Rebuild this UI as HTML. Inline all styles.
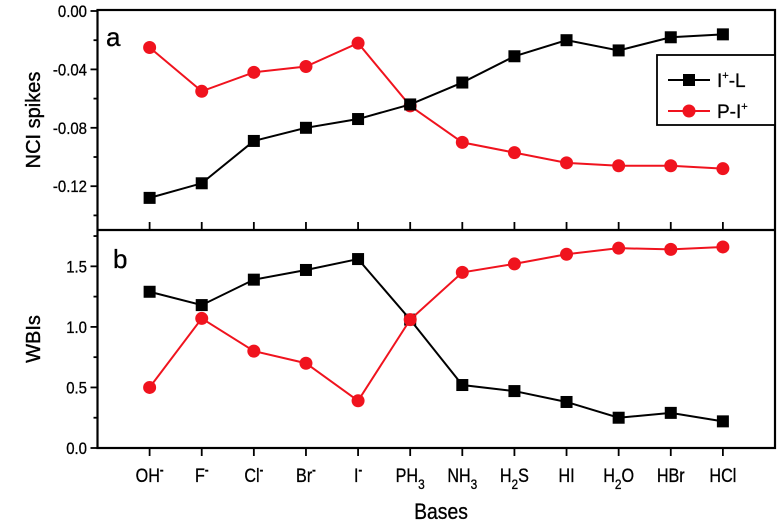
<!DOCTYPE html>
<html><head><meta charset="utf-8"><style>
html,body{margin:0;padding:0;background:#fff;}
svg{display:block;font-family:"Liberation Sans",sans-serif;}
</style></head><body>
<svg id="chart" width="779" height="532"></svg>
<script>
const categories=["OH","F","Cl","Br","I","PH3","NH3","H2S","HI","H2O","HBr","HCl"];
const labelHtml=[["OH","-",""],["F","-",""],["Cl","-",""],["Br","-",""],["I","-",""],["PH","","3"],["NH","","3"],["H","","2S"],["HI","",""],["H","","2O"],["HBr","",""],["HCl","",""]];
const nciIL=[-0.128,-0.118,-0.089,-0.080,-0.074,-0.064,-0.049,-0.031,-0.020,-0.027,-0.018,-0.016];
const nciPI=[-0.025,-0.055,-0.042,-0.038,-0.022,-0.065,-0.090,-0.097,-0.104,-0.106,-0.106,-0.108];
const wbiIL=[1.29,1.18,1.39,1.47,1.56,1.06,0.52,0.47,0.38,0.25,0.29,0.22];
const wbiPI=[0.50,1.07,0.80,0.70,0.39,1.06,1.45,1.52,1.60,1.65,1.64,1.66];
const nciTicks=[0,-0.04,-0.08,-0.12];
const nciTickLabels=["0.00","-0.04","-0.08","-0.12"];
const wbiTicks=[0,0.5,1.0,1.5];
const wbiTickLabels=["0.0","0.5","1.0","1.5"];

const svg=document.getElementById('chart');
const NS="http://www.w3.org/2000/svg";
function mk(tag,attrs,parent){const e=document.createElementNS(NS,tag);for(const k in attrs)e.setAttribute(k,attrs[k]);(parent||svg).appendChild(e);return e;}
const L=97.5,R=775;
const x=i=>L+(i+1)*(R-L)/13;
const yTop=v=>11+(v-0)/(-0.15)*(230-11);
const yBot=v=>448-v/1.8*(448-230);

const fr=mk('rect',{x:L,y:10,width:R-L,height:438,fill:'none',stroke:'#000','stroke-width':2.2});


const sep=mk('line',{x1:L,x2:R,y1:230,y2:230,stroke:'#000','stroke-width':2.2});



categories.forEach((c,i)=>{
  const t1=mk('line',{x1:x(i),x2:x(i),y1:230,y2:222,stroke:'#000','stroke-width':1.8});
  
  
  const t2=mk('line',{x1:x(i),x2:x(i),y1:448,y2:456,stroke:'#000','stroke-width':1.8});
  
  
  const lh=labelHtml[i];
  const g=mk('g',{transform:'translate('+x(i)+',482) scale(0.85,1)'});
  const tx=mk('text',{x:0,y:0,'text-anchor':'middle','font-size':19,stroke:'#000','stroke-width':0.3},g);
  
  
  const a=mk('tspan',{},tx);a.textContent=lh[0];
  if(lh[1]){const s=mk('tspan',{dy:-8,'font-size':13,'font-weight':'bold'},tx);s.textContent=lh[1];}
  if(lh[2]){const s=mk('tspan',{dy:7,'font-size':14},tx);s.textContent=lh[2][0];
    if(lh[2].length>1){const r=mk('tspan',{dy:-7},tx);r.textContent=lh[2].slice(1);}}
});
for(let v=0;v>=-0.141;v-=0.02){const y=yTop(v);const major=Math.abs(v/0.04-Math.round(v/0.04))<1e-6;
  const t=mk('line',{x1:L,x2:L-(major?7:4),y1:y,y2:y,stroke:'#000','stroke-width':1.8});
  
  }
nciTicks.forEach((v,i)=>{const t=mk('text',{x:0,y:0,'text-anchor':'end','font-size':17,stroke:'#000','stroke-width':0.3,transform:'translate(87,'+(yTop(v)+6)+') scale(0.88,1)'});t.textContent=nciTickLabels[i];
  
  });
for(let v=0;v<=1.76;v+=0.25){const y=yBot(v);const major=Math.abs(v*2-Math.round(v*2))<1e-6;
  const t=mk('line',{x1:L,x2:L-(major?7:4),y1:y,y2:y,stroke:'#000','stroke-width':1.8});
  
  }
wbiTicks.forEach((v,i)=>{const t=mk('text',{x:0,y:0,'text-anchor':'end','font-size':17,stroke:'#000','stroke-width':0.3,transform:'translate(87,'+(yBot(v)+6)+') scale(0.88,1)'});t.textContent=wbiTickLabels[i];
  
  });

function series(vals,yf,color,shape,name){
  const pts=vals.map((v,i)=>x(i)+','+yf(v)).join(' ');
  const pl=mk('polyline',{points:pts,fill:'none',stroke:color,'stroke-width':2});
  
  
  vals.forEach((v,i)=>{let m;
    if(shape==='sq')m=mk('rect',{x:x(i)-6,y:yf(v)-6,width:12,height:12,fill:color});
    else m=mk('circle',{cx:x(i),cy:yf(v),r:6.5,fill:color});
    
    });
}
series(nciPI,yTop,'#f0131e','c','nci-p-i');
series(nciIL,yTop,'#000','sq','nci-i-l');
series(wbiIL,yBot,'#000','sq','wbi-i-l');
series(wbiPI,yBot,'#f0131e','c','wbi-p-i');

const lg=mk('g',{});


mk('rect',{x:657,y:55,width:118,height:70,fill:'#fff',stroke:'#000','stroke-width':1.8},lg);
mk('line',{x1:668,x2:710,y1:80,y2:80,stroke:'#000','stroke-width':2},lg);
mk('rect',{x:683,y:74,width:12,height:12,fill:'#000'},lg);
const t1=mk('text',{x:717,y:87,'font-size':19,stroke:'#000','stroke-width':0.3},lg);


t1.innerHTML='I<tspan dy="-8" font-size="11">+</tspan><tspan dy="8">-L</tspan>';
mk('line',{x1:668,x2:710,y1:111,y2:111,stroke:'#f0131e','stroke-width':2},lg);
mk('circle',{cx:689,cy:111,r:6.5,fill:'#f0131e'},lg);
const t2=mk('text',{x:717,y:118,'font-size':19,stroke:'#000','stroke-width':0.3},lg);


t2.innerHTML='P-I<tspan dy="-8" font-size="11">+</tspan>';

function txt(s,attrs,name){const t=mk('text',attrs);t.textContent=s;return t;}
txt('a',{x:106,y:46,'font-size':26,stroke:'#000','stroke-width':0.3},'panel-a-label');
txt('b',{x:113,y:268,'font-size':26,stroke:'#000','stroke-width':0.3},'panel-b-label');
txt('NCI spikes',{x:0,y:0,'font-size':20,'text-anchor':'middle',stroke:'#000','stroke-width':0.4,transform:'translate(40,120) rotate(-90)'},'top-y-axis-title');
txt('WBIs',{x:0,y:0,'font-size':20,'text-anchor':'middle',stroke:'#000','stroke-width':0.4,transform:'translate(40,339) rotate(-90)'},'bottom-y-axis-title');
txt('Bases',{x:0,y:0,'font-size':22,'text-anchor':'middle',stroke:'#000','stroke-width':0.3,transform:'translate(441,519) scale(0.88,1)'},'x-axis-title');
</script>
</body></html>
